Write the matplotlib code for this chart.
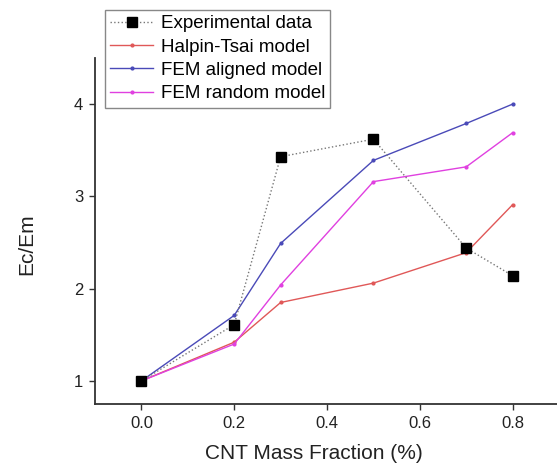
import matplotlib.pyplot as plt

plt.rcParams['font.family'] = ['Liberation Sans', 'DejaVu Sans']

mass_fraction = [0.0, 0.2, 0.3, 0.5, 0.7, 0.8]
experimental = [1.0, 1.61, 3.43, 3.62, 2.44, 2.14]
halpin_tsai = [1.0, 1.42, 1.85, 2.06, 2.39, 2.91]
fem_aligned = [1.0, 1.71, 2.49, 3.39, 3.79, 4.0]
fem_random = [1.0, 1.40, 2.04, 3.16, 3.32, 3.69]

fig = plt.figure(figsize=(5.57, 4.74), dpi=100)
ax = fig.add_axes([0.1706, 0.1477, 0.833, 0.73])

ax.plot(mass_fraction, experimental, color='#777777', linestyle=':', linewidth=1,
        marker='s', markersize=7.5, markerfacecolor='black', markeredgecolor='black',
        label='Experimental data', zorder=5)
ax.plot(mass_fraction, halpin_tsai, color='#e05858', linewidth=1,
        marker='o', markersize=2, label='Halpin-Tsai model')
ax.plot(mass_fraction, fem_aligned, color='#4a4ab8', linewidth=1,
        marker='o', markersize=2, label='FEM aligned model')
ax.plot(mass_fraction, fem_random, color='#e040e0', linewidth=1,
        marker='o', markersize=2, label='FEM random model')

ax.set_xlim(-0.1, 0.9)
ax.set_ylim(0.75, 4.5)
ax.set_xticks([0.0, 0.2, 0.4, 0.6, 0.8])
ax.set_xticklabels(['0.0', '0.2', '0.4', '0.6', '0.8'])
ax.set_yticks([1, 2, 3, 4])
ax.tick_params(direction='out', length=4.5, width=1, labelsize=12, pad=4,
               color='#333333', labelcolor='#222222')
for s in ['top', 'right']:
    ax.spines[s].set_visible(False)
for s in ['left', 'bottom']:
    ax.spines[s].set_linewidth(1.3)
    ax.spines[s].set_color('#333333')

ax.set_xlabel('CNT Mass Fraction (%)', fontsize=15, color='#222222')
ax.xaxis.set_label_coords(0.471, -0.115)
ax.set_ylabel('Ec/Em', fontsize=15, color='#222222')
ax.yaxis.set_label_coords(-0.126, 0.462)

fig.legend(loc='upper left', bbox_to_anchor=(0.1885, 0.979), fontsize=13.5,
           frameon=True, fancybox=False, edgecolor='#888888', framealpha=1,
           handlelength=2.3, labelspacing=0.33, borderpad=0.28, handletextpad=0.4,
           borderaxespad=0)

fig.savefig('out.png', dpi=100)
